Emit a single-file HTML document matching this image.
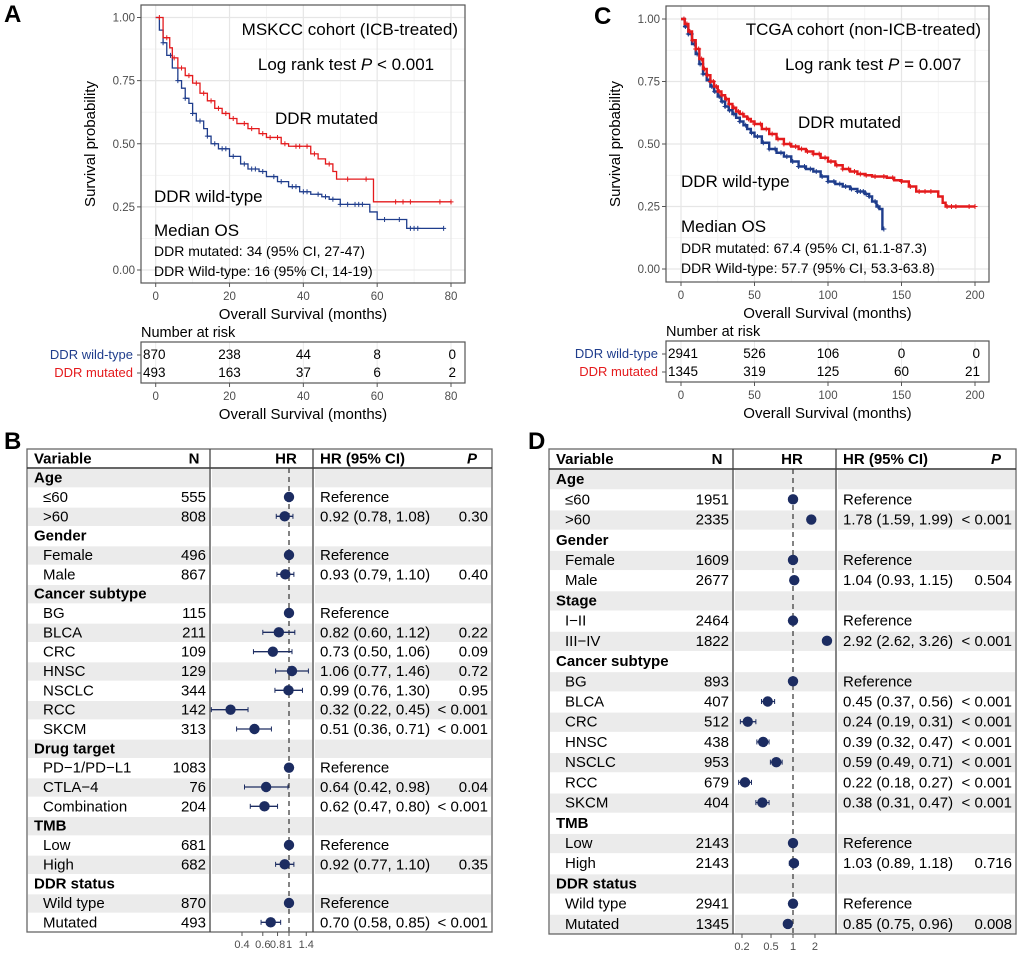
<!DOCTYPE html>
<html><head><meta charset="utf-8">
<style>
html,body{margin:0;padding:0;background:#fff;}
svg{display:block;font-family:"Liberation Sans",Arial,sans-serif;}
</style></head>
<body>
<svg id="fig" width="1020" height="957" viewBox="0 0 1020 957" xmlns="http://www.w3.org/2000/svg">
<text x="4" y="22" font-size="24" font-weight="bold">A</text>
<text x="594" y="24" font-size="24" font-weight="bold">C</text>
<text x="4" y="449" font-size="24" font-weight="bold">B</text>
<text x="528" y="449" font-size="24" font-weight="bold">D</text>
</svg>
<script>
// ===== Panel A data (MSKCC) =====
const aMutT = [0,2,3.8,4.5,6,8,10,12,14,16,18,20,22,25,28,30,34,36,42,44,46,48,49,59,80];
const aMutS = [1,0.92,0.88,0.84,0.80,0.77,0.74,0.70,0.67,0.64,0.62,0.60,0.58,0.56,0.54,0.525,0.50,0.49,0.46,0.44,0.42,0.39,0.36,0.27,0.27];
const aWtT = [0,1,2,3,4.5,6,7,8,9,10,11,13,14,15,17,20,23,25,28,30,33,36,39,42,45,47,50,58,60,68,78];
const aWtS = [1,0.95,0.90,0.85,0.80,0.75,0.72,0.68,0.66,0.62,0.59,0.56,0.53,0.50,0.48,0.45,0.42,0.40,0.39,0.37,0.35,0.33,0.31,0.30,0.29,0.28,0.26,0.23,0.20,0.165,0.165];
const aMutCens = [1,3,5,7,9,11,13,15,17,19,21,24,26,29,31,33,35,38,39,41,43,47,52,57,65,67,69,77,80];
const aWtCens = [2,4,6,8,10,12,14,16,18,19,21,24,26,27,29,32,34,37,38,40,41,44,46,48,50,52,54,55,56,62,66,69,70,71,78];
const aRiskTimes = [0,20,40,60,80];
const aRiskWt = [870,238,44,8,0];
const aRiskMut = [493,163,37,6,2];
const aXTicks = [0,20,40,60,80];
// ===== Panel C data (TCGA) =====
const cMutT = [0,2.5,5,7.5,10,12.5,15,17.5,20,22.5,25,27.5,30,32.5,35,37.5,40,42.5,45,47.5,50,55,60,65,70,75,80,85,90,95,100,105,110,115,120,125,130,140,145,150,155,160,175,178,180,200];
const cMutS = [1,0.98,0.95,0.915,0.88,0.84,0.80,0.775,0.75,0.73,0.71,0.695,0.68,0.66,0.645,0.63,0.62,0.61,0.60,0.59,0.58,0.56,0.54,0.52,0.50,0.49,0.48,0.47,0.46,0.445,0.43,0.415,0.40,0.39,0.38,0.375,0.37,0.365,0.355,0.35,0.33,0.31,0.29,0.265,0.25,0.25];
const cWtT = [0,2.5,5,7.5,10,12.5,15,17.5,20,22.5,25,27.5,30,32.5,35,37.5,40,42.5,45,47.5,50,55,60,65,70,75,80,85,90,95,100,105,110,115,120,125,128,130,133,135,137,138];
const cWtS = [1,0.97,0.94,0.90,0.86,0.82,0.78,0.755,0.73,0.71,0.69,0.67,0.65,0.635,0.62,0.605,0.59,0.575,0.56,0.545,0.53,0.505,0.48,0.465,0.45,0.43,0.41,0.40,0.39,0.37,0.35,0.34,0.33,0.32,0.31,0.30,0.29,0.27,0.25,0.24,0.16,0.16];
const cMutCens = [2,4,6,8,10,12,14,16,18,20,22,24,26,28,31,33,36,39,42,46,50,54,58,62,66,70,74,78,82,86,90,94,98,102,106,110,114,118,122,126,132,138,144,150,156,162,166,170,181,184,187,196,200];
const cWtCens = [3,5,7,9,11,13,15,17,19,21,23,26,28,30,33,36,40,44,48,52,56,60,64,68,72,76,80,84,88,92,96,100,104,108,112,116,120,122,124,126,128,132,134,138];
const cRiskTimes = [0,50,100,150,200];
const cRiskWt = [2941,526,106,0,0];
const cRiskMut = [1345,319,125,60,21];
const cXTicks = [0,50,100,150,200];
const yTicks = [0,0.25,0.5,0.75,1];
const yTickLabels = ["0.00","0.25","0.50","0.75","1.00"];

// ===== Panel B data =====
const bLabels = ["Age","≤60",">60","Gender","Female","Male","Cancer subtype","BG","BLCA","CRC","HNSC","NSCLC","RCC","SKCM","Drug target","PD−1/PD−L1","CTLA−4","Combination","TMB","Low","High","DDR status","Wild type","Mutated"];
const bN = ["","555","808","","496","867","","115","211","109","129","344","142","313","","1083","76","204","","681","682","","870","493"];
const bHR = [null,1,0.92,null,1,0.93,null,1,0.82,0.73,1.06,0.99,0.32,0.51,null,1,0.64,0.62,null,1,0.92,null,1,0.70];
const bLo = [null,1,0.78,null,1,0.79,null,1,0.60,0.50,0.77,0.76,0.22,0.36,null,1,0.42,0.47,null,1,0.77,null,1,0.58];
const bHi = [null,1,1.08,null,1,1.10,null,1,1.12,1.06,1.46,1.30,0.45,0.71,null,1,0.98,0.80,null,1,1.10,null,1,0.85];
const bHRText = ["","Reference","0.92 (0.78, 1.08)","","Reference","0.93 (0.79, 1.10)","","Reference","0.82 (0.60, 1.12)","0.73 (0.50, 1.06)","1.06 (0.77, 1.46)","0.99 (0.76, 1.30)","0.32 (0.22, 0.45)","0.51 (0.36, 0.71)","","Reference","0.64 (0.42, 0.98)","0.62 (0.47, 0.80)","","Reference","0.92 (0.77, 1.10)","","Reference","0.70 (0.58, 0.85)"];
const bP = ["","","0.30","","","0.40","","","0.22","0.09","0.72","0.95","< 0.001","< 0.001","","","0.04","< 0.001","","","0.35","","","< 0.001"];
const bTicks = [0.4,0.6,0.8,1,1.4];
const bTickLabels = ["0.4","0.6","0.8","1","1.4"];
// ===== Panel D data =====
const dLabels = ["Age","≤60",">60","Gender","Female","Male","Stage","I−II","III−IV","Cancer subtype","BG","BLCA","CRC","HNSC","NSCLC","RCC","SKCM","TMB","Low","High","DDR status","Wild type","Mutated"];
const dN = ["","1951","2335","","1609","2677","","2464","1822","","893","407","512","438","953","679","404","","2143","2143","","2941","1345"];
const dHR = [null,1,1.78,null,1,1.04,null,1,2.92,null,1,0.45,0.24,0.39,0.59,0.22,0.38,null,1,1.03,null,1,0.85];
const dLo = [null,1,1.59,null,1,0.93,null,1,2.62,null,1,0.37,0.19,0.32,0.49,0.18,0.31,null,1,0.89,null,1,0.75];
const dHi = [null,1,1.99,null,1,1.15,null,1,3.26,null,1,0.56,0.31,0.47,0.71,0.27,0.47,null,1,1.18,null,1,0.96];
const dHRText = ["","Reference","1.78 (1.59, 1.99)","","Reference","1.04 (0.93, 1.15)","","Reference","2.92 (2.62, 3.26)","","Reference","0.45 (0.37, 0.56)","0.24 (0.19, 0.31)","0.39 (0.32, 0.47)","0.59 (0.49, 0.71)","0.22 (0.18, 0.27)","0.38 (0.31, 0.47)","","Reference","1.03 (0.89, 1.18)","","Reference","0.85 (0.75, 0.96)"];
const dP = ["","","< 0.001","","","0.504","","","< 0.001","","","< 0.001","< 0.001","< 0.001","< 0.001","< 0.001","< 0.001","","","0.716","","","0.008"];
const dTicks = [0.2,0.5,1,2];
const dTickLabels = ["0.2","0.5","1","2"];

const NS = "http://www.w3.org/2000/svg";
const svg = document.getElementById('fig');
function el(tag, attrs, parent, txt){
  const e = document.createElementNS(NS, tag);
  for (const k in attrs) e.setAttribute(k, attrs[k]);
  if (txt !== undefined) e.textContent = txt;
  (parent||svg).appendChild(e);
  return e;
}
const RED = "#e41a1c", BLUE = "#1f3d8c", NAVY = "#1c2c61";

function stepAt(T,S,t){ let s=S[0]; for(let i=0;i<T.length;i++){ if(T[i]<=t) s=S[i]; } return s; }

function km(c){
  const g = el('g', {});
  
  
  const X = t => c.xz + t/c.tmax*(c.xm-c.xz);
  const Y = s => c.yb - s*(c.yb-c.yt);
  const step = c.ticks[1]-c.ticks[0];
  for (let i=0;i<c.ticks.length-1;i++){ const t=c.ticks[i]+step/2; el('line',{x1:X(t),x2:X(t),y1:c.y0,y2:c.y1,stroke:'#f2f2f2','stroke-width':0.8},g); }
  for (let i=0;i<yTicks.length-1;i++){ const s=yTicks[i]+0.125; el('line',{x1:c.x0,x2:c.x1,y1:Y(s),y2:Y(s),stroke:'#f2f2f2','stroke-width':0.8},g); }
  c.ticks.forEach(t=>el('line',{x1:X(t),x2:X(t),y1:c.y0,y2:c.y1,stroke:'#e6e6e6','stroke-width':1.2},g));
  yTicks.forEach(s=>el('line',{x1:c.x0,x2:c.x1,y1:Y(s),y2:Y(s),stroke:'#e6e6e6','stroke-width':1.2},g));
  const series = [[c.wtT,c.wtS,c.wtC,BLUE,'curve-ddr-wild-type'],[c.mutT,c.mutS,c.mutC,RED,'curve-ddr-mutated']];
  series.forEach(([T,S,C,col,nm])=>{
    let d = 'M'+X(T[0])+' '+Y(S[0]);
    for(let i=1;i<T.length;i++){ d += ' H'+X(T[i])+' V'+Y(S[i]); }
    const p = el('path',{d:d,fill:'none',stroke:col,'stroke-width':c.sw},g);
    
    
    C.forEach(t=>{ const x=X(t), y=Y(stepAt(T,S,t));
      el('path',{d:`M${x-2.5} ${y}H${x+2.5}M${x} ${y-2.5}V${y+2.5}`,stroke:col,'stroke-width':1},g); });
  });
  el('rect',{x:c.x0,y:c.y0,width:c.x1-c.x0,height:c.y1-c.y0,fill:'none',stroke:'#555','stroke-width':1.2},g);
  yTicks.forEach((s,i)=>{ el('line',{x1:c.x0-4,x2:c.x0,y1:Y(s),y2:Y(s),stroke:'#555'},g);
    el('text',{x:c.x0-6,y:Y(s)+4,'font-size':11.5,'text-anchor':'end',fill:'#4d4d4d'},g,yTickLabels[i]); });
  c.ticks.forEach(t=>{ el('line',{x1:X(t),x2:X(t),y1:c.y1,y2:c.y1+4,stroke:'#555'},g);
    el('text',{x:X(t),y:c.y1+17,'font-size':11.5,'text-anchor':'middle',fill:'#4d4d4d'},g,String(t)); });
  const yt = el('text',{x:0,y:0,'font-size':15,'text-anchor':'middle',transform:`translate(${c.x0-46},${(c.y0+c.y1)/2}) rotate(-90)`},g,'Survival probability');
   
  const xt = el('text',{x:(c.x0+c.x1)/2,y:c.y1+36,'font-size':15,'text-anchor':'middle'},g,'Overall Survival (months)');
   
  c.ann.forEach(a=>{ const t=el('text',{x:a[0],y:a[1],'font-size':a[2],'text-anchor':a[3]||'start'},g);
    t.innerHTML = a[4];   });
  const ry0 = c.y1+59, ry1 = c.y1+100;
  el('text',{x:c.x0,y:ry0-5,'font-size':14.5},g,'Number at risk');
  c.ticks.forEach(t=>el('line',{x1:X(t),x2:X(t),y1:ry0,y2:ry1,stroke:'#ebebeb'},g));
  el('rect',{x:c.x0,y:ry0,width:c.x1-c.x0,height:ry1-ry0,fill:'none',stroke:'#555','stroke-width':1.2},g);
  const rt = el('g',{},g);  
  [[c.riskWt,ry0+17,'DDR wild-type',BLUE],[c.riskMut,ry0+35,'DDR mutated',RED]].forEach(([vals,y,lab,col])=>{
    el('text',{x:c.x0-8,y:y,'font-size':13,'text-anchor':'end',fill:col},rt,lab);
    el('line',{x1:c.x0-4,x2:c.x0,y1:y-4,y2:y-4,stroke:'#555'},rt);
    vals.forEach((v,i)=>{ const t=c.riskTimes[i]; let x=X(t), anc='middle';
      if(i===0){x=c.x0+2;anc='start';} if(i===vals.length-1){x=X(t)+5; anc='end';}
      el('text',{x:x,y:y,'font-size':13.5,'text-anchor':anc},rt,String(v)); });
  });
  c.ticks.forEach(t=>{ el('line',{x1:X(t),x2:X(t),y1:ry1,y2:ry1+4,stroke:'#555'},g);
    el('text',{x:X(t),y:ry1+17,'font-size':11.5,'text-anchor':'middle',fill:'#4d4d4d'},g,String(t)); });
  el('text',{x:(c.x0+c.x1)/2,y:ry1+36,'font-size':15,'text-anchor':'middle'},g,'Overall Survival (months)');
}

km({name:'km-panel-a',x0:141,x1:465,y0:5,y1:283,xz:155.7,xm:451,tmax:80,yt:17.5,yb:270,sw:1.3,ticks:aXTicks,
 mutT:aMutT,mutS:aMutS,wtT:aWtT,wtS:aWtS,mutC:aMutCens,wtC:aWtCens,riskTimes:aRiskTimes,riskWt:aRiskWt,riskMut:aRiskMut,
 ann:[[458,35,17,'end','MSKCC cohort (ICB-treated)','cohort-title'],
      [346,70,17,'middle','Log rank test <tspan font-style="italic">P</tspan> &lt; 0.001','logrank-text'],
      [275,124,17,'start','DDR mutated','label-ddr-mutated'],
      [154,202,17,'start','DDR wild-type','label-ddr-wild-type'],
      [154,236,17,'start','Median OS','median-os-title'],
      [154,256,14,'start','DDR mutated: 34 (95% CI, 27-47)','median-os-mutated'],
      [154,276,14,'start','DDR Wild-type: 16 (95% CI, 14-19)','median-os-wild-type']]});
km({name:'km-panel-c',x0:666,x1:989,y0:6,y1:282,xz:681,xm:975,tmax:200,yt:19,yb:269,sw:2.4,ticks:cXTicks,
 mutT:cMutT,mutS:cMutS,wtT:cWtT,wtS:cWtS,mutC:cMutCens,wtC:cWtCens,riskTimes:cRiskTimes,riskWt:cRiskWt,riskMut:cRiskMut,
 ann:[[981,35,17,'end','TCGA cohort (non-ICB-treated)','cohort-title'],
      [785,70,17,'start','Log rank test <tspan font-style="italic">P</tspan> = 0.007','logrank-text'],
      [798,128,17,'start','DDR mutated','label-ddr-mutated'],
      [681,187,17,'start','DDR wild-type','label-ddr-wild-type'],
      [681,232,17,'start','Median OS','median-os-title'],
      [681,253,14,'start','DDR mutated: 67.4 (95% CI, 61.1-87.3)','median-os-mutated'],
      [681,273,14,'start','DDR Wild-type: 57.7 (95% CI, 53.3-63.8)','median-os-wild-type']]});

function forest(c){
  const g = el('g',{});
  
  
  const n = c.labels.length;
  const rh = (c.y1-c.yh)/n;
  const X = v => c.x1ref + Math.log(v)*c.k;
  for(let i=0;i<n;i++){
    if(i%2===0){
      const y=c.yh+i*rh;
      [[c.x0+1,c.d1-1],[c.d1+2,c.d2-1],[c.d2+2,c.x1-1]].forEach(([a,b])=>el('rect',{x:a,y:y+1,width:b-a,height:rh-1,fill:'#ebebeb'},g));
    }
  }
  el('line',{x1:X(1),x2:X(1),y1:c.yh,y2:c.y1,stroke:'#333','stroke-width':1.2,'stroke-dasharray':'5,4'},g);
  el('rect',{x:c.x0,y:c.y0,width:c.x1-c.x0,height:c.y1-c.y0,fill:'none',stroke:'#666','stroke-width':1.3},g);
  el('line',{x1:c.x0,x2:c.x1,y1:c.yh,y2:c.yh,stroke:'#333','stroke-width':1.5},g);
  el('line',{x1:c.d1,x2:c.d1,y1:c.y0,y2:c.y1,stroke:'#444','stroke-width':1.3},g);
  el('line',{x1:c.d2,x2:c.d2,y1:c.y0,y2:c.y1,stroke:'#444','stroke-width':1.3},g);
  const hy = c.y0+(c.yh-c.y0)/2+5;
  const fs=15;
  el('text',{x:c.x0+7,y:hy,'font-size':fs,'font-weight':'bold'},g,'Variable');
  el('text',{x:c.nx-12,y:hy,'font-size':fs,'font-weight':'bold','text-anchor':'middle'},g,'N');
  el('text',{x:c.hrx,y:hy,'font-size':fs,'font-weight':'bold','text-anchor':'middle'},g,'HR');
  el('text',{x:c.d2+7,y:hy,'font-size':fs,'font-weight':'bold'},g,'HR (95% CI)');
  el('text',{x:c.x1-20,y:hy,'font-size':fs,'font-weight':'bold','font-style':'italic','text-anchor':'middle'},g,'P');
  for(let i=0;i<n;i++){
    const cy = c.yh+(i+0.5)*rh, ty = cy+5;
    const row = el('g',{},g);
    
    
    if(c.hr[i]===null){
      el('text',{x:c.x0+7,y:ty,'font-size':fs,'font-weight':'bold'},row,c.labels[i]);
      continue;
    }
    el('text',{x:c.x0+16,y:ty,'font-size':fs},row,c.labels[i]);
    el('text',{x:c.nx,y:ty,'font-size':fs,'text-anchor':'end'},row,c.N[i]);
    if(c.lo[i]!==c.hi[i]){
      el('line',{x1:X(c.lo[i]),x2:X(c.hi[i]),y1:cy,y2:cy,stroke:NAVY,'stroke-width':1.3},row);
      el('line',{x1:X(c.lo[i]),x2:X(c.lo[i]),y1:cy-2.5,y2:cy+2.5,stroke:NAVY,'stroke-width':1},row);
      el('line',{x1:X(c.hi[i]),x2:X(c.hi[i]),y1:cy-2.5,y2:cy+2.5,stroke:NAVY,'stroke-width':1},row);
    }
    el('circle',{cx:X(c.hr[i]),cy:cy,r:5.2,fill:NAVY},row);
    el('text',{x:c.d2+7,y:ty,'font-size':fs},row,c.hrt[i]);
    el('text',{x:c.x1-4,y:ty,'font-size':fs,'text-anchor':'end'},row,c.p[i]);
  }
  c.ticks.forEach((t,i)=>{ el('line',{x1:X(t),x2:X(t),y1:c.y1,y2:c.y1+4,stroke:'#555'},g);
    el('text',{x:X(t),y:c.y1+16,'font-size':11,'text-anchor':'middle',fill:'#4d4d4d'},g,c.tickLabels[i]); });
}
forest({name:'forest-plot-b',x0:27,x1:492,y0:449,yh:468,y1:932,d1:210,d2:313,nx:206,hrx:286,x1ref:289,k:51.3,
  labels:bLabels,N:bN,hr:bHR,lo:bLo,hi:bHi,hrt:bHRText,p:bP,ticks:bTicks,tickLabels:bTickLabels});
forest({name:'forest-plot-d',x0:549,x1:1016,y0:449,yh:469,y1:934,d1:733,d2:836,nx:729,hrx:792,x1ref:793,k:31.7,
  labels:dLabels,N:dN,hr:dHR,lo:dLo,hi:dHi,hrt:dHRText,p:dP,ticks:dTicks,tickLabels:dTickLabels});
</script>
</body></html>
